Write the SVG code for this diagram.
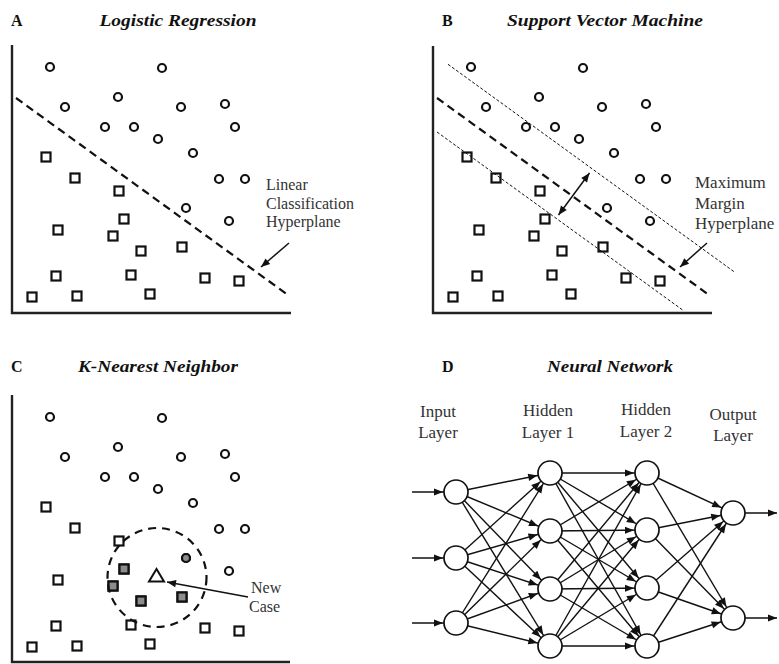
<svg xmlns="http://www.w3.org/2000/svg" xmlns:xlink="http://www.w3.org/1999/xlink" width="779" height="664" viewBox="0 0 779 664">
<style>
.title{font-family:"Liberation Serif","Times New Roman",serif;font-weight:bold;font-style:italic;font-size:17px;fill:#111}
.letter{font-family:"Liberation Serif","Times New Roman",serif;font-weight:bold;font-size:16px;fill:#111}
.lbl{font-family:"Liberation Serif","Times New Roman",serif;font-size:16px;fill:#333}
.lbl17{font-family:"Liberation Serif","Times New Roman",serif;font-size:17px;fill:#333}
.axis{stroke:#222;stroke-width:2.4;fill:none}
.pt{stroke:#111;stroke-width:2.2;fill:none}
.gray{stroke:#111;stroke-width:2.2;fill:#8c8c8c}
.dash{stroke:#111;stroke-width:2.2;stroke-dasharray:8,5;fill:none}
.thin{stroke:#111;stroke-width:1;stroke-dasharray:3,2;fill:none}
.arr{stroke:#111;stroke-width:1.5;fill:none}
.edge{stroke:#111;stroke-width:1.4;fill:none;marker-end:url(#mNode)}
.node{stroke:#111;stroke-width:1.7;fill:#fff}
</style>
<defs>
<marker id="mTip" markerUnits="userSpaceOnUse" refX="0" refY="0" orient="auto" overflow="visible">
<path d="M0,0 L-9,-3.6 L-9,3.6 Z" fill="#111"/>
</marker>
<marker id="mTipS" markerUnits="userSpaceOnUse" refX="0" refY="0" orient="auto-start-reverse" overflow="visible">
<path d="M0,0 L-9,-3.6 L-9,3.6 Z" fill="#111"/>
</marker>
<marker id="mNode" markerUnits="userSpaceOnUse" refX="13" refY="0" orient="auto" overflow="visible">
<path d="M0,0 L-9,-3.6 L-9,3.6 Z" fill="#111"/>
</marker>
<g id="points">
<circle class="pt" cx="50" cy="67" r="4"/>
<circle class="pt" cx="162" cy="68" r="4"/>
<circle class="pt" cx="118" cy="97" r="4"/>
<circle class="pt" cx="65" cy="107" r="4"/>
<circle class="pt" cx="181" cy="107" r="4"/>
<circle class="pt" cx="225" cy="104" r="4"/>
<circle class="pt" cx="105" cy="127" r="4"/>
<circle class="pt" cx="134" cy="127" r="4"/>
<circle class="pt" cx="235" cy="127" r="4"/>
<circle class="pt" cx="158" cy="139" r="4"/>
<circle class="pt" cx="193" cy="153" r="4"/>
<circle class="pt" cx="219" cy="179" r="4"/>
<circle class="pt" cx="245" cy="179" r="4"/>
<circle class="pt" cx="186" cy="208" r="4"/>
<circle class="pt" cx="229" cy="221" r="4"/>
<rect class="pt" x="41.5" y="152.5" width="9" height="9"/>
<rect class="pt" x="70.5" y="173.5" width="9" height="9"/>
<rect class="pt" x="114.5" y="186.5" width="9" height="9"/>
<rect class="pt" x="119.5" y="214.5" width="9" height="9"/>
<rect class="pt" x="53.5" y="225.5" width="9" height="9"/>
<rect class="pt" x="108.5" y="231.5" width="9" height="9"/>
<rect class="pt" x="136.5" y="246.5" width="9" height="9"/>
<rect class="pt" x="177.5" y="242.5" width="9" height="9"/>
<rect class="pt" x="51.5" y="271.5" width="9" height="9"/>
<rect class="pt" x="126.5" y="270.5" width="9" height="9"/>
<rect class="pt" x="200.5" y="273.5" width="9" height="9"/>
<rect class="pt" x="234.5" y="276.5" width="9" height="9"/>
<rect class="pt" x="27.5" y="292.5" width="9" height="9"/>
<rect class="pt" x="72.5" y="291.5" width="9" height="9"/>
<rect class="pt" x="145.5" y="289.5" width="9" height="9"/>
</g>
</defs>

<!-- Panel A -->
<g id="panelA">
<text class="letter" x="11" y="26">A</text>
<text class="title" x="178" y="26" text-anchor="middle" textLength="157" lengthAdjust="spacingAndGlyphs">Logistic Regression</text>
<path class="axis" d="M12,45 V313 H291"/>
<use xlink:href="#points" href="#points"/>
<line class="dash" x1="16" y1="98" x2="288" y2="295"/>
<line class="arr" x1="289" y1="243" x2="261" y2="267" marker-end="url(#mTip)"/>
<text class="lbl" x="266" y="190">Linear</text>
<text class="lbl" x="266" y="208.5">Classification</text>
<text class="lbl" x="266" y="227">Hyperplane</text>
</g>

<!-- Panel B -->
<g id="panelB">
<text class="letter" x="442" y="26">B</text>
<text class="title" x="605" y="26" text-anchor="middle" textLength="196" lengthAdjust="spacingAndGlyphs">Support Vector Machine</text>
<path class="axis" d="M433,46 V313 H712"/>
<use xlink:href="#points" href="#points" transform="translate(421,0)"/>
<line class="thin" x1="448" y1="64.3" x2="735" y2="272.4"/>
<line class="dash" x1="437" y1="98" x2="709" y2="295"/>
<line class="thin" x1="437" y1="132" x2="684" y2="311"/>
<line class="arr" x1="558.5" y1="215" x2="589.5" y2="173" marker-start="url(#mTipS)" marker-end="url(#mTipS)"/>
<line class="arr" x1="707" y1="243" x2="680" y2="267" marker-end="url(#mTip)"/>
<text class="lbl17" x="695" y="188">Maximum</text>
<text class="lbl17" x="695" y="208.5">Margin</text>
<text class="lbl17" x="695" y="229">Hyperplane</text>
</g>

<!-- Panel C -->
<g id="panelC">
<text class="letter" x="11" y="372">C</text>
<text class="title" x="158" y="372" text-anchor="middle" textLength="160" lengthAdjust="spacingAndGlyphs">K-Nearest Neighbor</text>
<path class="axis" d="M12,395 V662 H290"/>
<use xlink:href="#points" href="#points" transform="translate(0,350)"/>
<circle class="gray" cx="186" cy="558" r="4"/>
<rect class="gray" x="119.5" y="564.5" width="9" height="9"/>
<rect class="gray" x="108.5" y="581.5" width="9" height="9"/>
<rect class="gray" x="136.5" y="596.5" width="9" height="9"/>
<rect class="gray" x="177.5" y="592.5" width="9" height="9"/>
<circle cx="157" cy="577.5" r="49.5" fill="none" stroke="#111" stroke-width="2.2" stroke-dasharray="8,6"/>
<path d="M156.5,569 L149,581.5 L164,581.5 Z" fill="none" stroke="#111" stroke-width="2" stroke-linejoin="miter"/>
<line class="arr" x1="248" y1="597" x2="167" y2="582" marker-end="url(#mTip)"/>
<text class="lbl" x="251" y="593">New</text>
<text class="lbl" x="249" y="612">Case</text>
</g>

<!-- Panel D -->
<g id="panelD">
<text class="letter" x="442" y="372">D</text>
<text class="title" x="610" y="372" text-anchor="middle" textLength="126" lengthAdjust="spacingAndGlyphs">Neural Network</text>
<text class="lbl17" x="438" y="417" text-anchor="middle">Input</text>
<text class="lbl17" x="438" y="438" text-anchor="middle">Layer</text>
<text class="lbl17" x="548" y="415.5" text-anchor="middle">Hidden</text>
<text class="lbl17" x="548" y="437.5" text-anchor="middle">Layer 1</text>
<text class="lbl17" x="646" y="415" text-anchor="middle">Hidden</text>
<text class="lbl17" x="646" y="437" text-anchor="middle">Layer 2</text>
<text class="lbl17" x="733" y="420" text-anchor="middle">Output</text>
<text class="lbl17" x="733" y="441" text-anchor="middle">Layer</text>

<g id="connectors">
<line class="edge" x1="412" y1="492" x2="456" y2="492"/>
<line class="edge" x1="412" y1="558" x2="456" y2="558"/>
<line class="edge" x1="412" y1="623" x2="456" y2="623"/>
<line class="arr" x1="745" y1="513" x2="777" y2="513" marker-end="url(#mTip)"/>
<line class="arr" x1="745" y1="618" x2="777" y2="618" marker-end="url(#mTip)"/>

<line class="edge" x1="456" y1="492" x2="550" y2="473"/>
<line class="edge" x1="456" y1="492" x2="550" y2="531"/>
<line class="edge" x1="456" y1="492" x2="550" y2="589"/>
<line class="edge" x1="456" y1="492" x2="550" y2="646"/>
<line class="edge" x1="456" y1="558" x2="550" y2="473"/>
<line class="edge" x1="456" y1="558" x2="550" y2="531"/>
<line class="edge" x1="456" y1="558" x2="550" y2="589"/>
<line class="edge" x1="456" y1="558" x2="550" y2="646"/>
<line class="edge" x1="456" y1="623" x2="550" y2="473"/>
<line class="edge" x1="456" y1="623" x2="550" y2="531"/>
<line class="edge" x1="456" y1="623" x2="550" y2="589"/>
<line class="edge" x1="456" y1="623" x2="550" y2="646"/>

<line class="edge" x1="550" y1="473" x2="647" y2="473"/>
<line class="edge" x1="550" y1="473" x2="647" y2="530"/>
<line class="edge" x1="550" y1="473" x2="647" y2="588"/>
<line class="edge" x1="550" y1="473" x2="647" y2="646"/>
<line class="edge" x1="550" y1="531" x2="647" y2="473"/>
<line class="edge" x1="550" y1="531" x2="647" y2="530"/>
<line class="edge" x1="550" y1="531" x2="647" y2="588"/>
<line class="edge" x1="550" y1="531" x2="647" y2="646"/>
<line class="edge" x1="550" y1="589" x2="647" y2="473"/>
<line class="edge" x1="550" y1="589" x2="647" y2="530"/>
<line class="edge" x1="550" y1="589" x2="647" y2="588"/>
<line class="edge" x1="550" y1="589" x2="647" y2="646"/>
<line class="edge" x1="550" y1="646" x2="647" y2="473"/>
<line class="edge" x1="550" y1="646" x2="647" y2="530"/>
<line class="edge" x1="550" y1="646" x2="647" y2="588"/>
<line class="edge" x1="550" y1="646" x2="647" y2="646"/>

<line class="edge" x1="647" y1="473" x2="733" y2="513"/>
<line class="edge" x1="647" y1="473" x2="733" y2="618"/>
<line class="edge" x1="647" y1="530" x2="733" y2="513"/>
<line class="edge" x1="647" y1="530" x2="733" y2="618"/>
<line class="edge" x1="647" y1="588" x2="733" y2="513"/>
<line class="edge" x1="647" y1="588" x2="733" y2="618"/>
<line class="edge" x1="647" y1="646" x2="733" y2="513"/>
<line class="edge" x1="647" y1="646" x2="733" y2="618"/>
</g>

<g id="in1"><circle class="node" cx="456" cy="492" r="12"/></g>
<g id="in2"><circle class="node" cx="456" cy="558" r="12"/></g>
<g id="in3"><circle class="node" cx="456" cy="623" r="12"/></g>
<g id="h1a"><circle class="node" cx="550" cy="473" r="12"/></g>
<g id="h1b"><circle class="node" cx="550" cy="531" r="12"/></g>
<g id="h1c"><circle class="node" cx="550" cy="589" r="12"/></g>
<g id="h1d"><circle class="node" cx="550" cy="646" r="12"/></g>
<g id="h2a"><circle class="node" cx="647" cy="473" r="12"/></g>
<g id="h2b"><circle class="node" cx="647" cy="530" r="12"/></g>
<g id="h2c"><circle class="node" cx="647" cy="588" r="12"/></g>
<g id="h2d"><circle class="node" cx="647" cy="646" r="12"/></g>
<g id="out1"><circle class="node" cx="733" cy="513" r="12"/></g>
<g id="out2"><circle class="node" cx="733" cy="618" r="12"/></g>
</g>
</svg>
